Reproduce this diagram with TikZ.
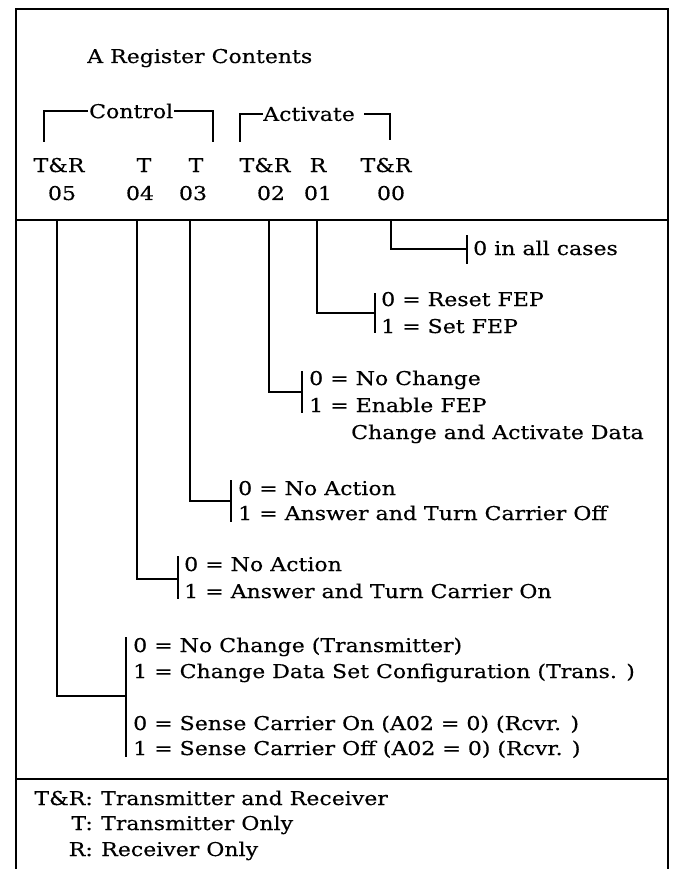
\documentclass[tikz,border=0pt]{standalone}
\usepackage{fontspec}
\setmainfont{DejaVu Serif}[FakeStretch=1.16, FakeBold=0.4]
\begin{document}
\begin{tikzpicture}[x=1pt,y=-1pt,
  lbl/.style={inner sep=0pt, anchor=base west, font=\fontsize{19}{22}\selectfont},
  clbl/.style={lbl, anchor=base},
  rlbl/.style={lbl, anchor=base east},
  frame/.style={line width=2.4pt},
  divider/.style={line width=1.5pt},
  conn/.style={line width=1.2pt},
  barline/.style={line width=2.4pt},
  brk/.style={line width=1.4pt}]
\useasboundingbox (0,0) rectangle (672,869);
% outer frame and dividers
\coordinate (fbl) at (16,869); \coordinate (ftl) at (16,9);
\coordinate (ftr) at (668,9); \coordinate (fbr) at (668,869);
\draw[frame] (fbl) -- (ftl) -- (ftr) -- (fbr);
\coordinate (dl) at (16,220); \coordinate (dr) at (668,220);
\draw[divider] (dl) -- (dr);
\coordinate (el) at (16,779); \coordinate (er) at (668,779);
\draw[divider] (el) -- (er);

% header
\node[lbl] (title) at (87,63) {A Register Contents};
\node[lbl, anchor=west, inner xsep=1pt] (ctl) at (88,111) {Control};
\coordinate (ctlL) at (44,142); \coordinate (ctlR) at (213,142);
\draw[brk] (ctlL) |- (ctl.west);
\draw[brk] (ctl.east) -| (ctlR);
\node[lbl, anchor=west] (act) at (263,114) {Activate};
\coordinate (actL) at (240,142); \coordinate (actR) at (390,140);
\coordinate (actG) at ([xshift=9pt]act.east);
\draw[brk] (actL) |- (act.west);
\draw[brk] (actG) -| (actR);

% bit types
\node[clbl] (t05) at (59,172) {T\&R};
\node[clbl] (t04) at (144,172) {T};
\node[clbl] (t03) at (196,172) {T};
\node[clbl] (t02) at (265,172) {T\&R};
\node[clbl] (t01) at (318,172) {R};
\node[clbl] (t00) at (386,172) {T\&R};
% bit numbers
\node[clbl] (b05) at (62,200) {05};
\node[clbl] (b04) at (140,200) {04};
\node[clbl] (b03) at (193,200) {03};
\node[clbl] (b02) at (271,200) {02};
\node[clbl] (b01) at (318,200) {01};
\node[clbl] (b00) at (391,200) {00};

% bit 00
\coordinate (c00) at (391,220); \coordinate (k00) at (467,249);
\coordinate (k00t) at (467,235); \coordinate (k00b) at (467,264);
\draw[conn] (c00) |- (k00);
\draw[barline] (k00t) -- (k00b);
\node[lbl] (d00) at (473,255) {0 in all cases};

% bit 01
\coordinate (c01) at (317,220); \coordinate (k01) at (375,313);
\coordinate (k01t) at (375,293); \coordinate (k01b) at (375,333);
\draw[conn] (c01) |- (k01);
\draw[barline] (k01t) -- (k01b);
\node[lbl] (d01a) at (381,306) {0 = Reset FEP};
\node[lbl] (d01b) at (381,333) {1 = Set FEP};

% bit 02
\coordinate (c02) at (269,220); \coordinate (k02) at (302,392);
\coordinate (k02t) at (302,371); \coordinate (k02b) at (302,413);
\draw[conn] (c02) |- (k02);
\draw[barline] (k02t) -- (k02b);
\node[lbl] (d02a) at (309,385) {0 = No Change};
\node[lbl] (d02b) at (309,412) {1 = Enable FEP};
\node[lbl] (d02c) at (351,439) {Change and Activate Data};

% bit 03
\coordinate (c03) at (190,220); \coordinate (k03) at (231,501);
\coordinate (k03t) at (231,480); \coordinate (k03b) at (231,522);
\draw[conn] (c03) |- (k03);
\draw[barline] (k03t) -- (k03b);
\node[lbl] (d03a) at (238,495) {0 = No Action};
\node[lbl] (d03b) at (238,520) {1 = Answer and Turn Carrier Off};

% bit 04
\coordinate (c04) at (137,220); \coordinate (k04) at (178,579);
\coordinate (k04t) at (178,556); \coordinate (k04b) at (178,599);
\draw[conn] (c04) |- (k04);
\draw[barline] (k04t) -- (k04b);
\node[lbl] (d04a) at (184,571) {0 = No Action};
\node[lbl] (d04b) at (184,598) {1 = Answer and Turn Carrier On};

% bit 05
\coordinate (c05) at (57,220); \coordinate (k05) at (126,696);
\coordinate (k05t) at (126,637); \coordinate (k05b) at (126,757);
\draw[conn] (c05) |- (k05);
\draw[barline] (k05t) -- (k05b);
\node[lbl] (d05a) at (133,652) {0 = No Change (Transmitter)};
\node[lbl] (d05b) at (133,678) {1 = Change Data Set Configuration (Trans. )};
\node[lbl] (d05c) at (133,730) {0 = Sense Carrier On (A02 = 0) (Rcvr. )};
\node[lbl] (d05d) at (133,755) {1 = Sense Carrier Off (A02 = 0) (Rcvr. )};

% legend
\node[rlbl] (k1) at (93,805) {T\&R:};
\node[lbl] (v1) at (101,805) {Transmitter and Receiver};
\node[rlbl] (k2) at (93,830) {T:};
\node[lbl] (v2) at (101,830) {Transmitter Only};
\node[rlbl] (k3) at (93,856) {R:};
\node[lbl] (v3) at (101,856) {Receiver Only};
\end{tikzpicture}
\end{document}
